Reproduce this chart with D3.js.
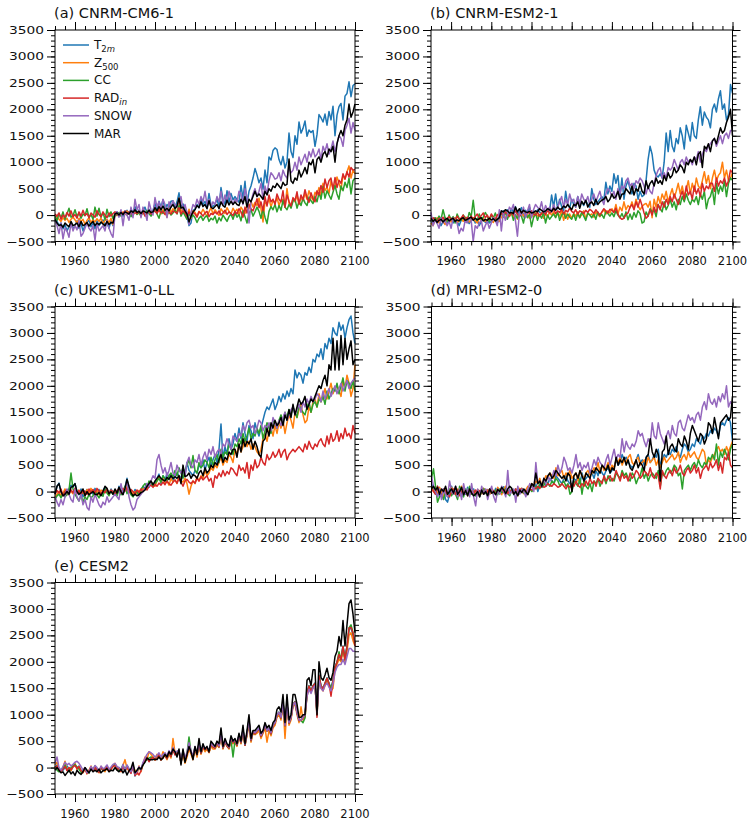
<!DOCTYPE html>
<html><head><meta charset="utf-8">
<script src="https://cdn.jsdelivr.net/npm/d3@7"></script>
<style>body{margin:0;background:#fff}svg{display:block}text{font-family:"DejaVu Sans",sans-serif;fill:#111}</style>
</head><body><svg id="c" width="747" height="819"></svg>
<script>
const years = d3.range(1950, 2101);
const seriesNames = ["T2m","Z500","CC","RADin","SNOW","MAR"];
const colors = ["#1f77b4","#ff7f0e","#2ca02c","#d62728","#9467bd","#000000"];
const panelTitles = ["(a) CNRM-CM6-1","(b) CNRM-ESM2-1","(c) UKESM1-0-LL","(d) MRI-ESM2-0","(e) CESM2"];
const xTickLabels = [1960,1980,2000,2020,2040,2060,2080,2100];
const yTickLabels = [-500,0,500,1000,1500,2000,2500,3000,3500];

// ---------- (a) CNRM-CM6-1 ----------
const aT2m = [
-50,-120,-200,-150,-260,-180,-300,-220,-160,-260,
-200,-110,-250,-160,-300,-190,-140,-100,-220,-150,
-260,-110,-200,-150,-90,-210,-150,-250,-110,-200,
10,60,-10,40,-20,60,90,20,110,50,
160,40,100,10,80,150,40,110,30,90,
220,90,260,150,290,110,200,140,260,270,
140,250,420,150,210,100,-20,-200,-150,90,
110,200,140,300,200,260,150,410,190,160,
210,300,150,520,290,200,460,240,410,290,
350,290,240,560,310,640,200,450,550,700,
880,760,610,700,490,850,610,1100,1040,1220,
1270,1240,1050,950,1110,890,1010,1550,1200,1090,
1500,1340,1760,1550,1640,1780,1490,1610,1560,1600,
1300,1520,1900,1840,1760,1910,1700,1960,1800,2060,
1500,1890,2050,2110,1800,2250,2300,2520,2240,2450,
2480];
const aZ500 = [
-60,-20,-80,-120,-50,-100,-60,-140,-80,-40,
-90,-150,-60,-120,-80,-180,-100,-50,-140,-90,
-130,-70,-120,-60,-160,-100,-80,-140,-60,-180,
20,-10,40,0,60,10,80,30,-10,50,
80,20,60,-30,100,40,0,90,30,60,
120,40,130,20,100,60,-40,130,50,120,
90,40,320,60,120,30,-40,110,-60,80,
50,-20,70,30,110,40,-30,60,140,20,
100,50,-10,120,60,30,140,70,20,130,
60,110,0,150,90,30,200,120,260,150,
240,180,320,120,-130,260,200,310,150,280,
230,330,180,280,300,150,500,220,160,310,
250,380,200,330,270,410,300,460,350,280,
430,380,520,350,600,460,530,410,650,500,
560,720,600,480,750,680,820,930,700,850,
780];
const aCC = [
-20,-100,30,-50,60,-80,20,130,-40,-10,
100,-30,40,-60,20,-10,120,-50,10,-80,
150,-20,130,-40,50,-90,110,-30,60,-70,
40,0,50,-20,30,60,0,40,-30,50,
70,10,40,-10,60,0,90,30,-20,60,
90,20,-60,80,30,110,10,60,0,40,
100,20,180,-20,60,-10,-80,20,-40,0,
-50,-140,-60,-20,-100,-40,-10,-120,-60,-90,
-20,-150,-50,-110,0,-60,-120,-30,20,-80,
40,-40,10,-110,80,-30,-150,30,100,-20,
60,150,70,-60,110,-40,-160,70,160,100,
200,60,180,90,280,150,100,200,130,260,
300,130,260,180,320,230,180,340,270,220,
350,250,420,300,540,320,460,380,300,430,
560,400,300,550,460,620,520,700,400,650,
700];
const aRAD = [
20,-20,40,-80,0,-40,50,-20,80,-30,
10,-60,60,-20,90,-10,30,-50,40,0,
-40,80,10,-30,60,0,-50,40,-20,30,
60,20,-10,50,30,80,10,60,40,0,
50,30,80,10,60,-20,40,70,20,50,
80,30,100,40,70,10,90,50,20,80,
60,30,140,20,80,40,-20,60,10,50,
20,-40,60,30,-20,40,70,-30,30,10,
60,20,80,0,40,90,10,60,30,-10,
70,20,120,60,-40,150,40,200,120,80,
180,310,140,250,80,350,170,380,250,300,
200,400,300,250,460,150,380,260,170,330,
270,440,210,380,290,480,330,240,420,310,
250,460,380,560,430,680,520,650,700,480,
710,520,660,600,780,680,820,720,900,850,
860];
const aSNOW = [
-100,-200,-350,-150,-450,-250,-300,-420,-150,-300,
-200,-280,-100,-400,-350,-250,-150,-250,-300,-200,
-480,-150,-300,-250,-200,-300,-100,-250,-350,-420,
20,60,-40,100,-200,80,0,-100,150,-50,
300,100,200,-50,150,50,-100,250,100,0,
330,150,250,100,300,200,-50,250,150,270,
200,150,280,350,100,200,50,-180,50,200,
150,300,200,350,250,450,200,300,150,250,
200,350,250,450,200,380,250,450,300,200,
300,250,450,400,200,500,350,-150,250,400,
500,350,450,600,300,550,400,650,800,750,
680,700,800,650,850,750,700,900,800,850,
1000,850,1100,950,1050,1150,1000,1200,1100,1250,
1100,1150,1250,1050,1300,1200,1350,1150,1250,1400,
1200,1350,1500,1450,1300,1600,1700,1830,1550,1750,
1600];
const aMAR = [
-80,-150,-200,-180,-230,-150,-190,-220,-120,-200,
-180,-150,-220,-120,-200,-180,-140,-210,-160,-120,
-200,-150,-180,-130,-170,-200,-120,-180,-140,-150,
20,40,0,50,10,60,40,20,80,50,
100,50,70,30,80,60,40,90,50,60,
140,80,160,100,170,90,130,80,150,200,
120,170,320,130,150,80,20,-130,-20,60,
100,180,140,250,160,200,120,270,150,120,
160,200,120,250,180,150,280,190,260,200,
250,200,180,300,220,350,150,300,250,350,
450,350,400,350,300,450,380,500,450,550,
520,600,550,500,620,560,580,1060,650,600,
700,660,850,720,800,900,780,1000,950,1050,
800,1050,1100,1000,1150,1200,1100,1250,1200,1300,
1000,1350,1500,1600,1500,1700,1800,2100,1850,1950,
2100];

// ---------- (b) CNRM-ESM2-1 ----------
const bT2m = [
-100,-180,-50,-150,-100,-200,-120,-50,-150,-100,
-80,-150,-60,-120,-200,-100,-50,-130,-90,-160,
-100,-50,-150,-80,-200,-120,-60,-140,-100,-150,
-120,-50,-100,-150,-80,40,80,60,100,20,
120,50,160,0,80,140,-30,90,40,150,
30,80,10,100,60,20,90,50,120,80,
380,150,400,120,300,160,80,450,200,130,
300,200,150,350,220,250,180,280,200,150,
500,300,200,250,300,350,280,620,400,550,
450,780,600,750,350,700,300,550,650,500,
400,600,550,300,450,350,380,650,1050,1300,
1150,850,750,720,780,700,1000,1550,1200,1600,
1300,1200,1450,1350,1650,1500,1250,1700,1550,1400,
1750,1500,1450,1800,2050,1700,1950,1850,1800,1650,
2000,2100,1950,2200,2350,2000,2100,1800,1900,2470,
2300];
const bZ500 = [
-150,-200,-100,-50,-150,-80,-120,-180,-60,-100,
-130,-70,-50,-150,-100,-60,-120,-40,-90,-130,
-80,-50,-110,-150,-70,-100,-60,-120,-90,-50,
-100,-140,-60,-80,-120,-40,0,-60,20,-30,
40,-50,10,-80,30,60,-20,50,0,-60,
30,-40,50,-20,0,40,-60,20,-30,50,
0,60,-40,30,-20,80,-100,40,-80,20,
-60,30,-20,60,-50,10,80,-70,40,0,
20,-40,60,10,-30,50,100,20,80,40,
120,50,200,20,150,80,250,100,180,140,
250,120,300,180,100,160,200,220,150,260,
-50,300,150,350,220,400,300,450,250,380,
500,320,450,600,400,550,350,480,650,400,
600,450,700,550,500,650,820,600,750,500,
700,850,650,750,800,1000,700,850,650,700,
800];
const bCC = [
-100,-150,-50,-100,-20,-80,100,-50,-120,0,
-80,-30,-150,20,-60,-100,0,-50,-120,50,
-30,280,-60,-100,20,-80,-40,50,-20,-120,
0,-60,40,-100,-20,30,-40,60,-80,20,
50,-100,0,-60,30,-20,-150,40,-50,20,
-220,-50,30,-100,10,-60,50,-150,0,-80,
-30,20,-50,60,-100,0,50,-60,20,-40,
-80,20,-100,30,-50,60,-20,-100,40,0,
-50,20,-80,60,-20,10,-60,70,30,-20,
40,-30,80,0,-50,30,-60,60,-90,20,
-80,50,-40,80,30,-150,-130,60,-20,120,
50,100,-30,200,120,60,250,100,180,300,
150,250,100,300,200,350,250,400,280,200,
300,250,350,200,400,300,450,120,300,350,
500,200,600,400,550,450,650,350,600,700,
660];
const bRAD = [
-100,-50,-80,-130,-60,-100,-40,-120,-70,-30,
-90,-50,-110,-20,-80,-60,0,-100,-40,-70,
-20,-80,-30,20,-60,-10,40,-50,0,-80,
20,-40,-90,10,-50,40,0,60,20,-20,
50,0,80,20,-30,40,90,10,60,30,
80,20,0,50,-20,30,60,10,90,40,
60,120,30,80,50,110,20,90,60,130,
70,40,100,20,80,60,30,90,50,110,
80,30,100,50,0,60,120,80,40,110,
90,50,130,20,-50,-80,-60,10,40,150,
200,100,250,150,300,180,40,-60,-20,100,
0,150,50,200,100,250,150,300,200,350,
250,400,300,200,350,450,300,550,380,450,
300,550,400,500,350,600,450,550,500,600,
600,450,700,550,650,600,700,550,650,850,
800];
const bSNOW = [
50,-200,-100,-150,-250,-50,-150,-100,-200,-120,
-250,-50,-100,-150,-350,-250,-300,-100,-150,-50,
-100,-500,-200,-250,-150,-100,-300,-200,-120,-250,
-150,-50,-100,-200,100,-300,50,-100,0,150,
100,200,-100,-400,50,0,150,-50,80,200,
-50,100,200,150,100,250,50,180,100,150,
60,200,100,150,250,350,150,300,200,400,
250,300,150,350,200,400,300,250,350,200,
300,400,250,350,450,300,200,400,500,450,
350,450,300,500,400,550,500,650,700,550,
600,500,650,600,700,650,550,400,550,450,
400,600,750,850,900,700,800,700,900,850,
900,1050,950,850,1000,1050,950,1100,1000,1050,
950,1100,1050,1200,1000,1150,1250,1200,1300,1350,
1400,1450,1300,1400,1500,1350,1500,1550,1450,1600,
1600];
const bMAR = [
-60,-120,-80,-140,-100,-80,-130,-90,-60,-110,
-80,-60,-120,-90,-110,-70,-50,-100,-80,-60,
-40,-100,-60,-90,-70,-50,-110,-80,-100,-60,
-90,-70,-110,-80,-50,80,60,100,80,40,
50,30,150,60,120,40,90,60,50,70,
40,50,80,60,120,90,60,80,120,100,
70,130,90,150,110,120,170,140,200,150,
100,200,180,250,130,260,200,280,150,220,
250,180,300,200,250,280,300,350,250,300,
400,320,350,450,300,400,400,500,450,400,
550,380,500,450,600,450,400,650,500,600,
650,550,700,600,650,580,750,650,800,700,
750,900,800,850,950,900,800,1000,950,1050,
1000,1100,950,1150,1200,900,1300,1250,1350,1200,
1400,1450,1350,1500,1650,1550,1600,1750,1850,2000,
1500];

// ---------- (c) UKESM1-0-LL ----------
const cT2m = [
-50,100,160,0,-80,20,-50,50,120,80,
150,0,-60,50,-100,-30,40,-80,30,-50,
60,-30,40,-60,20,80,0,-40,50,-20,
30,-60,100,20,-40,80,250,60,10,-80,
40,-20,-60,20,100,60,150,80,200,120,
180,250,330,150,300,200,350,250,300,200,
280,350,300,250,450,300,550,400,350,300,
400,350,500,450,600,400,550,650,500,600,
700,550,800,1280,600,850,700,1000,800,900,
1100,950,1200,1000,1300,1100,950,1250,1150,1000,
1300,1150,1050,1200,1350,1500,1600,1550,1650,1750,
1550,1650,1800,1700,1850,1750,1900,1800,1950,1850,
2300,2150,2250,2200,2050,2250,2200,2350,2250,2500,
2450,2600,2550,2700,2500,2800,2700,2900,2800,3100,
3000,2950,3200,3050,3150,2900,3100,3250,3320,3000,
2800];
const cZ500 = [
-100,-50,0,-80,-30,50,-60,20,0,-40,
60,-20,30,-50,0,-80,40,-30,60,-10,
-40,20,-60,30,0,-20,50,-40,10,-30,
20,-50,60,0,-30,40,100,-20,30,-60,
0,-40,20,-10,60,30,100,150,200,120,
100,200,280,180,250,150,200,120,250,180,
220,150,300,200,180,250,150,-50,100,200,
150,280,200,300,250,400,300,350,450,400,
500,450,550,650,500,600,550,700,650,550,
800,700,900,750,850,1000,850,950,800,900,
850,750,700,800,1000,1100,950,1150,1200,1050,
1250,1100,1300,1200,1350,1100,1300,1450,1350,1200,
1500,1400,1550,1650,1450,1300,1350,1600,1500,1700,
1750,1600,1850,1700,1800,1950,1750,1900,2050,1850,
1950,2000,1900,1800,2100,1950,2200,2050,1800,1950,
2400];
const cCC = [
-150,-80,-50,-120,-30,-100,-60,30,350,50,
-50,-120,-180,-60,-200,-100,-150,-50,-120,-80,
0,-60,-120,-40,-90,50,-30,-80,20,-50,
-20,-80,40,-60,0,100,-40,20,-60,-100,
-30,0,-80,40,100,150,80,200,150,100,
150,200,250,180,300,250,200,300,350,280,
400,300,450,350,250,400,500,600,450,680,
400,350,550,450,500,600,550,450,650,500,
600,700,550,800,650,750,700,900,800,700,
900,850,1000,900,1100,950,1050,1200,1000,1100,
1050,1200,1100,1250,1000,1150,1300,1200,1100,1350,
1300,1200,1350,1450,1300,1500,1400,1550,1450,1600,
1500,1400,1650,1550,1500,1450,1600,1700,1500,1650,
1700,1600,1750,1700,1800,1650,1900,1750,1850,1950,
1900,2050,1850,2000,2150,1900,2100,2050,1950,2100,
1900];
const cRAD = [
-50,20,-30,50,-80,0,40,-60,30,-20,
60,-40,20,-70,30,0,-50,50,-20,40,
-30,60,10,-50,20,-20,50,-40,30,0,
-60,20,50,-30,60,10,70,-20,40,0,
-40,30,-20,50,0,60,30,100,120,80,
140,100,160,120,180,130,200,150,120,180,
220,160,250,180,100,200,230,180,150,200,
160,250,200,280,220,260,300,200,250,80,
300,250,350,280,400,300,380,330,450,420,
350,300,500,400,450,350,550,250,500,400,
600,450,500,650,550,500,700,600,650,750,
650,700,800,650,750,800,600,700,750,800,
750,800,850,800,750,900,800,950,850,800,
900,850,950,1000,900,850,1050,900,1100,950,
1000,1150,950,1100,1000,1200,1050,1100,1000,1250,
1100];
const cSNOW = [
-100,-200,-280,-150,-250,-100,50,-50,-150,-200,
50,-100,-180,-50,-250,-150,-300,-350,-100,-200,
-50,-150,-250,-300,-200,-250,-100,-200,-150,-100,
-50,-100,-150,150,-50,50,200,-100,-250,-350,
-300,-150,-100,-50,0,50,150,100,200,300,
250,600,700,500,350,450,300,400,550,350,
300,500,400,350,450,300,550,650,500,450,
600,550,700,500,650,750,600,800,700,850,
650,750,800,700,900,850,1000,900,800,1050,
1000,950,1100,1050,1250,1150,1300,1350,1200,1250,
1100,1200,1350,1300,1150,1250,1200,1300,1150,1400,
1300,1200,1350,1250,1400,1500,1350,1450,1550,1600,
1450,1550,1650,1500,1700,1600,1750,1650,1800,1700,
1750,1850,1800,1700,1900,1750,1850,1950,1800,1900,
2000,1850,1950,2050,1900,2000,2100,1950,2050,2100,
2150];
const cMAR = [
-50,100,150,0,-80,-50,0,-50,80,100,
150,0,-50,-20,50,-80,0,-60,-30,0,
-50,-60,-20,-80,0,100,60,-40,0,-50,
50,-30,80,0,-60,60,230,100,-20,-80,
-50,-80,-60,-20,0,30,100,150,200,130,
200,250,300,250,220,200,270,230,300,250,
280,250,300,150,500,280,300,350,250,320,
300,250,350,400,300,450,350,400,500,450,
550,500,600,700,550,650,600,750,700,800,
800,650,900,750,1000,850,950,900,1000,800,
950,850,700,650,950,1000,1200,1050,1300,1200,
1350,1250,1300,1400,1250,1450,1350,1550,1400,1650,
1450,1600,1750,1650,1700,1800,1550,1650,1750,1700,
1800,1900,2000,1950,2100,2200,2000,2400,2300,2900,
2300,2850,2300,2950,2400,2900,2500,2700,2850,2400,
2500];

// ---------- (d) MRI-ESM2-0 ----------
const dT2m = [
150,50,-50,100,-100,-50,30,-150,-200,-50,
100,-50,0,-80,50,-100,0,-50,80,-30,
0,50,-80,30,-50,0,60,-20,40,-50,
20,-30,60,0,-40,50,90,0,30,-20,
50,-60,0,40,-30,50,0,-40,30,80,
100,50,150,0,120,80,200,100,150,250,
200,150,300,250,200,150,250,300,200,150,
100,250,200,300,150,350,200,250,300,400,
350,250,400,300,450,350,300,400,450,350,
400,450,600,500,550,700,600,650,550,500,
450,500,600,700,550,600,500,650,700,550,
600,700,650,800,500,600,700,650,750,700,
800,750,850,700,650,800,900,850,750,800,
900,850,1000,950,900,1050,1000,1100,1050,1150,
1100,1200,1150,1050,1250,1300,1250,1350,1400,1300,
950];
const dZ500 = [
100,0,50,-50,80,-20,-100,50,-50,30,
80,0,-60,50,-20,100,-50,30,-80,60,
-30,20,-60,40,0,-40,60,-20,30,-50,
60,0,-40,80,20,-60,50,100,0,-30,
40,-50,20,-80,60,0,-40,30,100,50,
150,100,200,150,250,100,200,300,250,350,
300,250,450,300,350,400,250,350,300,400,
250,300,350,200,400,300,250,350,400,300,
350,450,400,550,350,500,400,450,550,400,
500,450,600,550,650,500,600,550,650,700,
550,500,600,650,500,550,600,500,650,550,
600,650,500,600,450,550,650,550,600,650,
700,600,650,750,550,650,700,600,750,650,
700,750,650,600,700,800,750,500,600,550,
650,700,800,850,750,800,700,850,750,850,
950];
const dCC = [
250,430,100,-200,-100,-50,-150,0,-100,50,
-80,0,-50,-150,100,-30,-100,50,-60,100,
-50,0,-80,30,-100,0,50,-30,-80,20,
0,-50,30,-60,50,-20,0,60,-40,-80,
30,-20,50,-60,0,60,-30,20,-50,50,
0,50,100,60,150,80,120,200,150,100,
200,150,250,200,100,150,200,100,150,-50,
0,200,150,100,250,-50,200,100,50,150,
0,200,150,250,100,200,250,150,300,200,
250,200,350,300,250,400,300,350,250,200,
350,300,150,250,300,450,250,350,200,300,
350,300,250,400,100,350,300,400,450,350,
400,500,450,300,350,50,400,450,500,400,
500,550,450,600,500,450,550,500,650,600,
700,600,900,500,750,650,800,700,600,800,
900];
const dRAD = [
50,0,-50,100,-20,-100,50,0,-50,-100,
0,50,-50,30,-80,0,60,-30,20,-60,
0,-40,30,-60,20,0,-50,40,-20,50,
-30,20,-50,40,0,60,-20,30,-40,20,
0,-30,50,-20,30,60,0,20,-40,50,
30,80,50,100,60,120,80,100,150,120,
100,150,120,80,100,150,100,50,120,80,
150,100,200,120,80,150,100,200,120,250,
150,200,100,250,200,150,300,200,250,300,
200,250,400,300,200,350,250,300,200,350,
250,300,400,350,250,300,400,350,300,450,
300,250,350,300,50,400,300,250,350,400,
300,450,350,400,500,350,300,400,450,350,
400,500,350,450,250,400,450,500,400,550,
450,500,600,400,550,350,650,600,750,500,
450];
const dSNOW = [
300,100,0,-100,50,-150,50,-50,-100,200,
0,-50,100,-100,50,-150,150,-50,50,-100,
150,-100,-270,50,-100,100,-50,50,-150,0,
100,-100,-200,50,-50,100,0,-100,400,-50,
0,50,-200,100,-50,50,0,-100,50,150,
100,0,550,150,200,100,250,150,300,200,
250,400,300,500,350,450,650,550,400,450,
350,500,700,450,550,400,500,450,550,350,
450,600,500,650,550,500,450,600,700,500,
650,800,600,700,650,1000,750,950,850,800,
900,850,950,1150,1050,1100,950,850,1000,900,
1300,1050,1000,1300,1100,1000,900,1050,1150,1000,
1250,1100,1050,1300,1350,1200,1150,1300,1450,1350,
1400,1300,1450,1500,1350,1600,1700,1550,1850,1700,
1650,1750,1600,1800,1700,1850,1750,2000,1600,1700,
1650];
const dMAR = [
50,100,30,80,-50,50,0,100,-50,0,
50,-30,100,-50,0,80,-60,20,-80,50,
-30,-80,-50,0,-100,30,-50,0,-80,50,
-30,0,-60,40,0,80,30,-40,50,100,
60,-50,0,-80,30,-20,50,0,-60,50,
150,100,350,150,200,100,250,200,300,350,
250,300,400,350,300,250,300,200,350,300,
0,300,350,250,400,300,200,350,300,250,
400,350,450,400,350,500,450,400,500,350,
450,400,650,500,600,550,650,500,600,450,
400,500,600,450,550,500,400,650,700,1000,
750,650,800,700,200,750,800,1050,700,850,
900,800,750,1000,900,850,1050,950,800,1100,
1250,1150,1050,950,1100,1050,900,1000,1300,1250,
1100,1400,1200,1000,1300,1350,1400,1450,1350,1400,
1800];

// ---------- (e) CESM2 ----------
const eT2m = [
0,50,-30,-80,-50,0,30,-20,-60,20,
50,0,30,-50,-80,-20,-100,-60,0,-50,
20,-40,-80,0,-50,-30,20,-60,-20,30,
50,-30,0,-60,20,-80,30,-40,-100,50,
-160,-80,0,-50,80,150,200,120,180,200,
150,180,250,150,200,250,180,300,220,350,
250,280,300,100,300,150,250,450,300,200,
380,250,450,280,400,350,380,300,450,400,
380,480,400,650,380,500,420,380,550,480,
520,430,620,480,720,430,650,900,520,680,
650,700,750,600,680,800,700,750,650,800,
850,1000,1050,950,1250,800,1200,850,950,1200,
1250,1050,900,900,950,1000,1400,1550,1450,1550,
1600,1000,1750,1550,1500,1600,1700,1600,1500,1650,
1900,2000,2100,2050,2300,2050,2300,2600,2650,2500,
2350];
const eZ500 = [
50,100,-30,-80,0,120,-50,0,-60,50,
80,-30,20,-70,-100,-20,-120,-50,30,-70,
0,-60,-100,20,-40,-80,0,-60,-30,20,
80,0,-40,-80,40,150,-20,-60,-80,30,
-50,-130,30,-80,60,200,150,300,250,200,
150,250,200,180,300,220,150,250,180,550,
280,250,300,150,250,80,200,350,250,150,
350,200,400,250,380,300,350,280,400,350,
350,420,380,600,350,480,400,350,520,450,
480,400,580,450,650,420,600,820,480,650,
620,650,700,550,650,750,480,700,600,750,
800,950,1000,900,1200,550,1150,800,900,1150,
1200,1000,850,1150,900,950,1350,1500,1450,1500,
1550,1050,1700,1500,1450,1550,1650,1550,1450,1500,
1850,1950,2050,2000,2250,2000,2200,2500,2550,2400,
2300];
const eCC = [
20,-50,-80,-60,0,50,-40,-80,0,30,
60,0,-30,-90,-60,-20,-80,-100,0,-40,
30,-50,-80,0,-60,-20,30,-50,-10,40,
60,-20,-60,-30,50,-50,40,-30,-80,20,
-120,-60,0,-40,50,120,150,180,200,180,
140,170,220,140,210,240,170,280,210,330,
260,270,310,90,310,140,270,580,290,190,
370,240,440,270,390,340,370,290,440,390,
370,470,390,640,370,490,410,370,540,200,
510,420,610,470,710,420,640,880,510,670,
640,690,740,590,670,790,690,740,640,790,
840,990,1040,940,1240,790,1190,840,940,1190,
1240,1040,890,890,850,940,1390,1540,1440,1540,
1590,990,1740,1540,1490,1590,1690,1590,1490,1640,
1890,1990,2190,2040,2290,2040,2290,2640,2700,2550,
2350];
const eRAD = [
0,30,-50,-70,-30,20,-60,0,-40,10,
40,-20,20,-60,-90,-10,-110,-70,10,-60,
10,-50,-90,10,-50,-40,10,-70,-30,20,
40,-40,-10,-70,30,-70,20,-50,-110,40,
-150,-90,-140,-60,70,140,190,110,170,190,
140,170,240,140,190,240,170,290,210,340,
240,270,290,90,290,140,240,440,290,190,
370,240,440,270,390,340,370,290,440,390,
370,470,390,640,370,490,410,370,540,470,
510,420,610,470,710,420,640,890,510,670,
640,690,740,590,670,790,690,740,640,790,
840,990,1040,940,1240,790,1190,840,940,1190,
1240,1040,890,890,940,990,1390,1540,1440,1540,
1590,950,1740,1540,1490,1590,1690,1590,1350,1640,
1890,1990,2140,2040,2290,2040,2290,2640,2650,2550,
2300];
const eSNOW = [
80,200,0,-50,20,100,50,80,30,60,
100,120,80,20,-50,0,-100,-80,20,-40,
40,0,-60,30,-20,0,50,-30,10,60,
80,20,0,-50,60,-60,50,-20,-80,40,
-120,-80,20,-40,100,180,250,300,280,250,
200,230,280,200,250,280,220,320,260,380,
290,310,330,130,330,180,290,470,320,220,
400,270,460,300,410,360,390,310,460,410,
390,490,410,650,390,510,430,390,560,490,
530,440,620,490,720,440,650,880,530,690,
660,700,750,610,690,800,700,750,660,800,
850,1000,1040,950,1230,800,1180,850,950,1180,
1230,1040,900,900,950,1000,1350,1480,1400,1500,
1550,1050,1650,1500,1450,1550,1600,1520,1450,1580,
1800,1900,1950,1950,2050,1950,2100,2250,2250,2200,
2200];
const eMAR = [
-50,0,-50,-100,-80,-150,-100,-50,-120,-80,
-150,-50,-100,-130,-80,0,-50,-100,-30,-80,
-50,-80,-30,-100,-60,-50,-20,-80,-50,-60,
0,-50,-80,-30,-100,-40,-140,-60,-20,100,
-100,-50,0,-30,50,100,180,150,150,150,
160,150,200,150,180,250,200,300,250,350,
300,200,350,50,350,100,250,400,300,150,
400,250,550,300,450,350,400,300,500,450,
400,500,450,750,400,550,450,400,600,500,
550,450,650,500,800,450,700,1000,550,700,
700,750,800,650,700,850,750,800,700,850,
900,1100,1150,1050,1380,850,1380,900,1000,1380,
1380,1200,950,950,1000,1000,1650,1700,1550,1850,
1850,1000,2000,1700,1650,1750,1880,1700,1650,1800,
2100,2200,2480,2300,2780,2300,2700,3100,3170,2900,
2550];

const panelSeries = [
  [aT2m,aZ500,aCC,aRAD,aSNOW,aMAR],
  [bT2m,bZ500,bCC,bRAD,bSNOW,bMAR],
  [cT2m,cZ500,cCC,cRAD,cSNOW,cMAR],
  [dT2m,dZ500,dCC,dRAD,dSNOW,dMAR],
  [eT2m,eZ500,eCC,eRAD,eSNOW,eMAR]
];
const layout = [
  {l:55,r:355,t:30,b:241.5},
  {l:431,r:732.5,t:30,b:241.5},
  {l:55,r:355,t:306.5,b:518},
  {l:431.5,r:732.5,t:306.5,b:518},
  {l:55,r:355,t:582.5,b:794}
];

const svg = d3.select("#c");
const fmt = d3.format("");
const xMinor = d3.range(1950, 2101, 5);
const yMinor = d3.range(-500, 3501, 100);

panelSeries.forEach((series, p) => {
  const L = layout[p];
  const x = d3.scaleLinear().domain([1950, 2100]).range([L.l, L.r]);
  const y = d3.scaleLinear().domain([-500, 3500]).range([L.b, L.t]);
  const g = svg.append("g");

  const line = d3.line().x((d, i) => x(years[i])).y(d => y(d));
  series.forEach((s, k) => {
    g.append("path").datum(s).attr("d", line)
      .attr("fill", "none").attr("stroke", colors[k])
      .attr("stroke-width", 1.5).attr("stroke-linejoin", "round");
  });

  const addAxis = (axis, tr) => {
    const a = g.append("g").attr("transform", tr).call(axis);
    a.select(".domain").remove();
    a.selectAll("line").attr("stroke", "#000").attr("stroke-width", 1);
    a.selectAll("text").remove();
    return a;
  };
  addAxis(d3.axisBottom(x).tickValues(xMinor).tickSize(4), `translate(0,${L.b})`);
  addAxis(d3.axisBottom(x).tickValues(xTickLabels).tickSize(8), `translate(0,${L.b})`);
  addAxis(d3.axisTop(x).tickValues(xMinor).tickSize(4), `translate(0,${L.t})`);
  addAxis(d3.axisTop(x).tickValues(xTickLabels).tickSize(8), `translate(0,${L.t})`);
  addAxis(d3.axisLeft(y).tickValues(yMinor).tickSize(4), `translate(${L.l},0)`);
  addAxis(d3.axisLeft(y).tickValues(yTickLabels).tickSize(8), `translate(${L.l},0)`);
  addAxis(d3.axisRight(y).tickValues(yMinor).tickSize(4), `translate(${L.r},0)`);
  addAxis(d3.axisRight(y).tickValues(yTickLabels).tickSize(8), `translate(${L.r},0)`);

  g.append("rect").attr("x", L.l).attr("y", L.t)
    .attr("width", L.r - L.l).attr("height", L.b - L.t)
    .attr("fill", "none").attr("stroke", "#000").attr("stroke-width", 1);

  g.selectAll(".xl").data(xTickLabels).join("text")
    .attr("x", d => x(d)).attr("y", L.b + 23.5)
    .attr("text-anchor", "middle").attr("font-size", 11.5)
    .text(d => fmt(d));
  g.selectAll(".yl").data(yTickLabels).join("text")
    .attr("transform", d => `translate(${L.l - 11},${y(d) + 4}) scale(1.25,1)`)
    .attr("text-anchor", "end").attr("font-size", 11)
    .text(d => d3.format("")(d).replace("-", "\u2212"));

  g.append("text").attr("x", L.l - 1).attr("y", L.t - 12)
    .attr("font-size", 14.5).text(panelTitles[p]);
});

// legend in panel (a)
const lg = svg.append("g");
const legendY = d3.scaleLinear().domain([0, 5]).range([45, 133.5]);
const labelParts = [
  [["T",""],["2","sub"],["m","subi"]],
  [["Z",""],["500","sub"]],
  [["CC",""]],
  [["RAD",""],["in","subi"]],
  [["SNOW",""]],
  [["MAR",""]]
];
seriesNames.forEach((n, k) => {
  const yy = legendY(k);
  lg.append("line").attr("x1", 63).attr("x2", 89).attr("y1", yy).attr("y2", yy)
    .attr("stroke", colors[k]).attr("stroke-width", 1.5);
  const t = lg.append("text").attr("x", 94).attr("y", yy + 4).attr("font-size", 12);
  labelParts[k].forEach(([s, kind], j) => {
    const ts = t.append("tspan").text(s);
    if (kind) {
      ts.attr("font-size", 8.5);
      if (j === 1) ts.attr("dy", 3);
      if (kind === "subi") ts.attr("font-style", "italic");
    }
  });
});
</script></body></html>
